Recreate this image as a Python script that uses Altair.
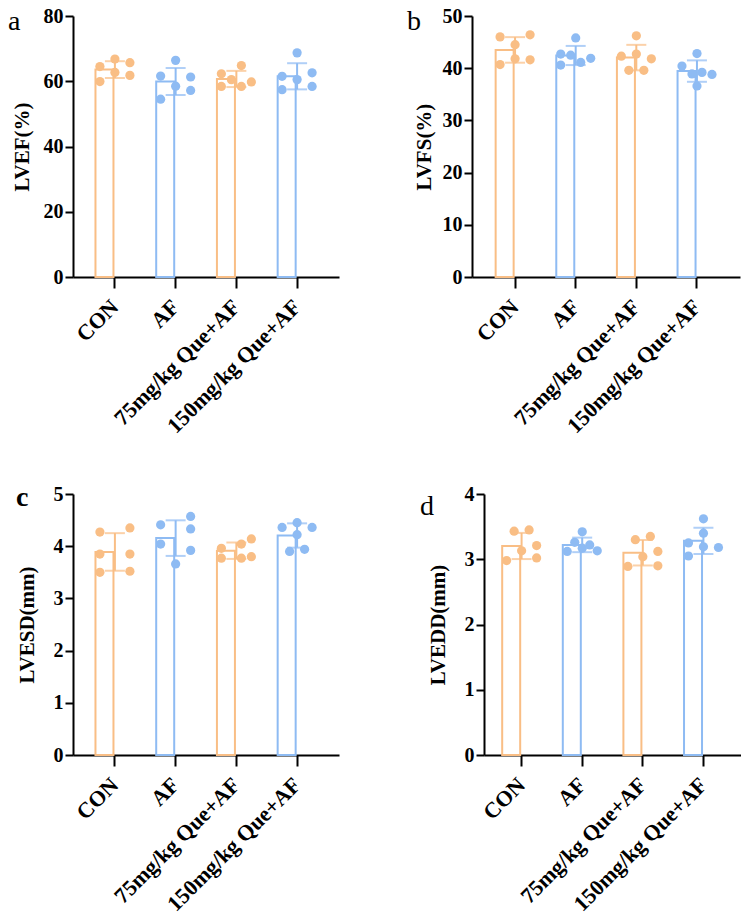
import altair as alt
import pandas as pd

groups = ["CON", "AF", "75mg/kg Que+AF", "150mg/kg Que+AF"]
group_colors = ["#F9BE85", "#8EBBF3", "#F9BE85", "#8EBBF3"]

# LVEF (%)
lvef = [
    [64.5, 66.8, 65.7, 62.7, 59.9, 61.8],
    [61.6, 66.4, 61.3, 58.5, 54.5, 57.2],
    [62.3, 64.8, 60.5, 59.8, 58.4, 58.4],
    [68.7, 61.5, 60.5, 62.6, 57.4, 58.4],
]
lvef_slots = [[-3, 0, 3, 0, -3, 3], [-3, 0, 3, 0, -3, 3], [-3, 1, -1, 3, -3, 1], [0, -3, 0, 3, -3, 3]]

# LVFS (%)
lvfs = [
    [46.0, 46.4, 44.5, 41.8, 40.7, 41.6],
    [45.8, 42.7, 42.5, 40.6, 41.1, 41.9],
    [46.2, 42.3, 42.7, 41.8, 39.6, 39.6],
    [42.8, 40.4, 38.9, 39.2, 38.8, 36.6],
]
lvfs_slots = [[-3, 3, 0, 0, -3, 3], [0, -3, -1, -3, 1, 3], [0, -3, 0, 3, -1.5, 1.5], [0, -3, -1, 1, 3, 0]]

# LVESD (mm)
lvesd = [
    [4.27, 4.35, 3.85, 3.85, 3.50, 3.52],
    [4.41, 4.57, 4.33, 4.04, 3.92, 3.66],
    [3.96, 4.04, 4.14, 3.77, 3.77, 3.80],
    [4.45, 4.36, 4.36, 4.22, 3.90, 3.94],
]
lvesd_slots = [[-3, 3, -3, 3, -3, 3], [-3, 3, 3, -3, 3, 0], [-3, 1, 3, -3, 1, 3], [0, -3, 3, 0, -1.5, 1.5]]

# LVEDD (mm)
lvedd = [
    [3.43, 3.45, 3.21, 3.13, 2.98, 3.02],
    [3.42, 3.26, 3.22, 3.12, 3.17, 3.13],
    [3.30, 3.35, 3.12, 3.04, 2.89, 2.90],
    [3.62, 3.40, 3.25, 3.19, 3.18, 3.05],
]
lvedd_slots = [[-1.5, 1.5, 3, 0, -3, 3], [0, -1.5, 1.5, -3, 0, 3], [-1.5, 1.5, 3, 0, -3, 3], [0, 0, -3, 0, 3, -3]]

panel_letters = ["a", "b", "c", "d"]
y_titles = ["LVEF(%)", "LVFS(%)", "LVESD(mm)", "LVEDD(mm)"]
y_ticks = [[0, 20, 40, 60, 80], [0, 10, 20, 30, 40, 50], [0, 1, 2, 3, 4, 5], [0, 1, 2, 3, 4]]

FONT = "Liberation Serif"
H = 261


def frame(values, slots):
    rows = []
    for g, vals, sl in zip(groups, values, slots):
        for v, s in zip(vals, sl):
            rows.append({"group": g, "value": v, "slot": s})
    return pd.DataFrame(rows)


def panel(values, slots, letter, title, ticks, width, pad_outer, title_pad,
          letter_x, letter_y, letter_weight):
    df = frame(values, slots)
    pad_inner = 0.36
    step = width / (4 - pad_inner + 2 * pad_outer)
    bw = step * (1 - pad_inner)
    xscale = alt.Scale(domain=groups, paddingInner=pad_inner, paddingOuter=pad_outer)
    xaxis = alt.Axis(title=None, labelAngle=-45, labelAlign="right", labelBaseline="middle",
                     labelPadding=15, tickSize=11, labelFontSize=22)
    x = alt.X("group:N", scale=xscale, sort=groups, axis=xaxis)
    yscale = alt.Scale(domain=[ticks[0], ticks[-1]], nice=False, zero=True)
    yaxis = alt.Axis(title=title, values=ticks, tickSize=8, labelPadding=2,
                     titlePadding=title_pad, labelFontSize=20, titleFontSize=21)
    cscale = alt.Scale(domain=groups, range=group_colors)

    base = alt.Chart(df)
    bars = base.mark_bar(fill="white", strokeWidth=2).encode(
        x=x,
        y=alt.Y("mean(value):Q", scale=yscale, axis=yaxis),
        stroke=alt.Stroke("group:N", scale=cscale, legend=None),
    )
    agg = base.transform_aggregate(
        m="mean(value)", s="stdev(value)", groupby=["group"]
    ).transform_calculate(lo="datum.m - datum.s", hi="datum.m + datum.s")
    rule = agg.mark_rule(strokeWidth=2).encode(
        x=x,
        y=alt.Y("lo:Q", scale=yscale, axis=yaxis),
        y2="hi:Q",
        color=alt.Color("group:N", scale=cscale, legend=None),
    )
    cap_lo = agg.mark_tick(size=20, thickness=2).encode(
        x=x,
        y=alt.Y("lo:Q", scale=yscale, axis=yaxis),
        color=alt.Color("group:N", scale=cscale, legend=None),
    )
    cap_hi = agg.mark_tick(size=20, thickness=2).encode(
        x=x,
        y=alt.Y("hi:Q", scale=yscale, axis=yaxis),
        color=alt.Color("group:N", scale=cscale, legend=None),
    )
    points = base.mark_circle(size=85, opacity=1).encode(
        x=x,
        xOffset=alt.XOffset("slot:Q", scale=alt.Scale(domain=[-3, 3], range=[bw / 2 - 15, bw / 2 + 15])),
        y=alt.Y("value:Q", scale=yscale, axis=yaxis),
        color=alt.Color("group:N", scale=cscale, legend=None),
    )
    lab_df = pd.DataFrame({"t": [letter]})
    lab = alt.Chart(lab_df).mark_text(
        align="left", baseline="alphabetic", fontSize=28, font=FONT,
        fontWeight=letter_weight, color="black"
    ).encode(text="t:N", x=alt.value(letter_x), y=alt.value(letter_y))
    # invisible anchor so every panel has the same left extent
    anchor = alt.Chart(lab_df).mark_rule(strokeWidth=1, strokeOpacity=0).encode(
        x=alt.value(-65), y=alt.value(H - 2), y2=alt.value(H - 1)
    )
    return alt.layer(bars, rule, cap_lo, cap_hi, points, lab, anchor).properties(width=width, height=H)


pa = panel(lvef, lvef_slots, panel_letters[0], y_titles[0], y_ticks[0], 266, 0.37, 11, -65, 14, "normal")
pb = panel(lvfs, lvfs_slots, panel_letters[1], y_titles[1], y_ticks[1], 268, 0.39, 8, -65, 14, "normal")
pc = panel(lvesd, lvesd_slots, panel_letters[2], y_titles[2], y_ticks[2], 266, 0.37, 16, -57, 12, "bold")
pd_ = panel(lvedd, lvedd_slots, panel_letters[3], y_titles[3], y_ticks[3], 257, 0.30, 16, -64, 21, "normal")

row1 = alt.hconcat(pa, pb, spacing=133, bounds="flush")
row2 = alt.hconcat(pc, pd_, spacing=145, bounds="flush")

chart = alt.vconcat(row1, row2, spacing=47).properties(
    padding={"left": 0, "top": -2, "right": 0, "bottom": 0}
).configure_view(stroke=None).configure_axis(
    domainColor="black", domainWidth=2, tickColor="black", tickWidth=2,
    labelFont=FONT, labelFontWeight="bold", labelColor="black",
    titleFont=FONT, titleFontWeight="bold", titleColor="black", grid=False,
)

chart.save("out.html", embed_options={"renderer": "svg", "actions": False})
